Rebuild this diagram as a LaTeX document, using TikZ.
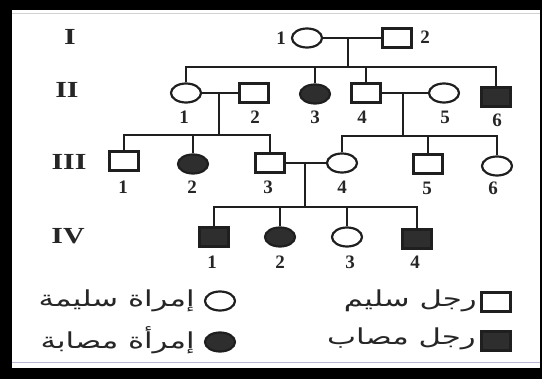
\documentclass[tikz,border=0pt]{standalone}
\usepackage{fontspec}
\setmainfont{Liberation Serif}
\newfontfamily\arabicfont[Script=Arabic]{DejaVu Sans}
\TeXXeTstate=1
\usetikzlibrary{shapes.geometric}

% wide lettering helpers
\newcommand{\widen}[2]{\scalebox{#1}[1]{#2}}

\tikzset{
  pline/.style={draw=black!88, line width=2.2pt},
  male/.style={rectangle, draw=black!88, line width=2.2pt, minimum width=29pt, minimum height=19pt, inner sep=0pt},
  female/.style={ellipse, draw=black!88, line width=2.2pt, minimum width=30pt, minimum height=19pt, inner sep=0pt},
  affected/.style={fill=black!82},
  num/.style={font=\fontsize{19}{19}\selectfont\bfseries, text=black!85, inner sep=0pt},
  gen/.style={font=\fontsize{23}{23}\selectfont\bfseries, text=black!85, inner sep=0pt},
  legtext/.style={font=\fontsize{22}{22}\arabicfont, text=black!85, inner sep=0pt},
}

\begin{document}
\begin{tikzpicture}[x=1pt, y=-1pt]
  % frame
  \fill[black] (0,0) rectangle (542,379);
  \fill[white] (12,10) rectangle (540,368);
  \draw[gray!35, line width=0.8pt] (12,13) -- (540,13);
  \draw[blue!25!gray!45, line width=1pt] (12,363) -- (540,363);
  \useasboundingbox (0,0) rectangle (542,379);

  % generation numerals
  \node[gen] (gI)   at (70,37)  {\widen{1.3}{I}};
  \node[gen] (gII)  at (67,90)  {\widen{1.3}{II}};
  \node[gen] (gIII) at (69,162) {\widen{1.3}{III}};
  \node[gen] (gIV)  at (68,236) {\widen{1.3}{IV}};

  % generation I
  \node[female] (I1) at (307,38) {};
  \node[male]   (I2) at (397,38) {};
  \node[num] (nI1) at (281,38) {1};
  \node[num] (nI2) at (425,37) {2};

  % generation II
  \node[female]          (II1) at (186,93) {};
  \node[male]            (II2) at (254,93) {};
  \node[female,affected] (II3) at (315,94) {};
  \node[male]            (II4) at (366,93) {};
  \node[female]          (II5) at (444,93) {};
  \node[male,affected]   (II6) at (496,97) {};
  \node[num] (nII1) at (184,117) {1};
  \node[num] (nII2) at (255,117) {2};
  \node[num] (nII3) at (315,117) {3};
  \node[num] (nII4) at (362,117) {4};
  \node[num] (nII5) at (445,117) {5};
  \node[num] (nII6) at (497,120) {6};

  % generation III
  \node[male]            (III1) at (124,161) {};
  \node[female,affected] (III2) at (193,164) {};
  \node[male]            (III3) at (270,163) {};
  \node[female]          (III4) at (342,163) {};
  \node[male]            (III5) at (428,164) {};
  \node[female]          (III6) at (497,166) {};
  \node[num] (nIII1) at (123,187) {1};
  \node[num] (nIII2) at (192,187) {2};
  \node[num] (nIII3) at (268,187) {3};
  \node[num] (nIII4) at (342,187) {4};
  \node[num] (nIII5) at (427,188) {5};
  \node[num] (nIII6) at (493,188) {6};

  % generation IV
  \node[male,affected]   (IV1) at (214,237) {};
  \node[female,affected] (IV2) at (280,237) {};
  \node[female]          (IV3) at (347,237) {};
  \node[male,affected]   (IV4) at (417,239) {};
  \node[num] (nIV1) at (212,262) {1};
  \node[num] (nIV2) at (280,262) {2};
  \node[num] (nIV3) at (350,262) {3};
  \node[num] (nIV4) at (415,262) {4};

  % couples and their descent lines
  \coordinate (mI)   at (348,38);
  \coordinate (bI)   at (348,67);
  \coordinate (mII)  at (219,93);
  \coordinate (bII)  at (219,135);
  \coordinate (mIIb) at (403,93);
  \coordinate (bIIb) at (403,136);
  \coordinate (mIII) at (305,163);
  \coordinate (bIII) at (305,207);

  \draw[pline] (I1.east) -- (I2.west);
  \draw[pline] (mI) -- (bI);
  \draw[pline] (II1.north) |- (II6.north |- bI) -- (II6.north);
  \draw[pline] (II3.north) -- (II3.north |- bI);
  \draw[pline] (II4.north) -- (II4.north |- bI);

  \draw[pline] (II1.east) -- (II2.west);
  \draw[pline] (mII) -- (bII);
  \draw[pline] (III1.north) |- (III3.north |- bII) -- (III3.north);
  \draw[pline] (III2.north) -- (III2.north |- bII);

  \draw[pline] (II4.east) -- (II5.west);
  \draw[pline] (mIIb) -- (bIIb);
  \draw[pline] (III4.north) |- (III6.north |- bIIb) -- (III6.north);
  \draw[pline] (III5.north) -- (III5.north |- bIIb);

  \draw[pline] (III3.east) -- (III4.west);
  \draw[pline] (mIII) -- (bIII);
  \draw[pline] (IV1.north) |- (IV4.north |- bIII) -- (IV4.north);
  \draw[pline] (IV2.north) -- (IV2.north |- bIII);
  \draw[pline] (IV3.north) -- (IV3.north |- bIII);

  % key
  \node[female]          (kF)  at (220,301) {};
  \node[female,affected] (kFA) at (220,342) {};
  \node[male]            (kM)  at (496,302) {};
  \node[male,affected]   (kMA) at (496,341) {};
  \node[legtext, anchor=east] (tF)  at (195,301) {\widen{1.4}{\beginR إمراة سليمة\endR}};
  \node[legtext, anchor=east] (tFA) at (195,340) {\widen{1.4}{\beginR إمرأة مصابة\endR}};
  \node[legtext, anchor=east] (tM)  at (477,301) {\widen{1.4}{\beginR رجل سليم\endR}};
  \node[legtext, anchor=east] (tMA) at (476,339) {\widen{1.4}{\beginR رجل مصاب\endR}};
\end{tikzpicture}
\end{document}
